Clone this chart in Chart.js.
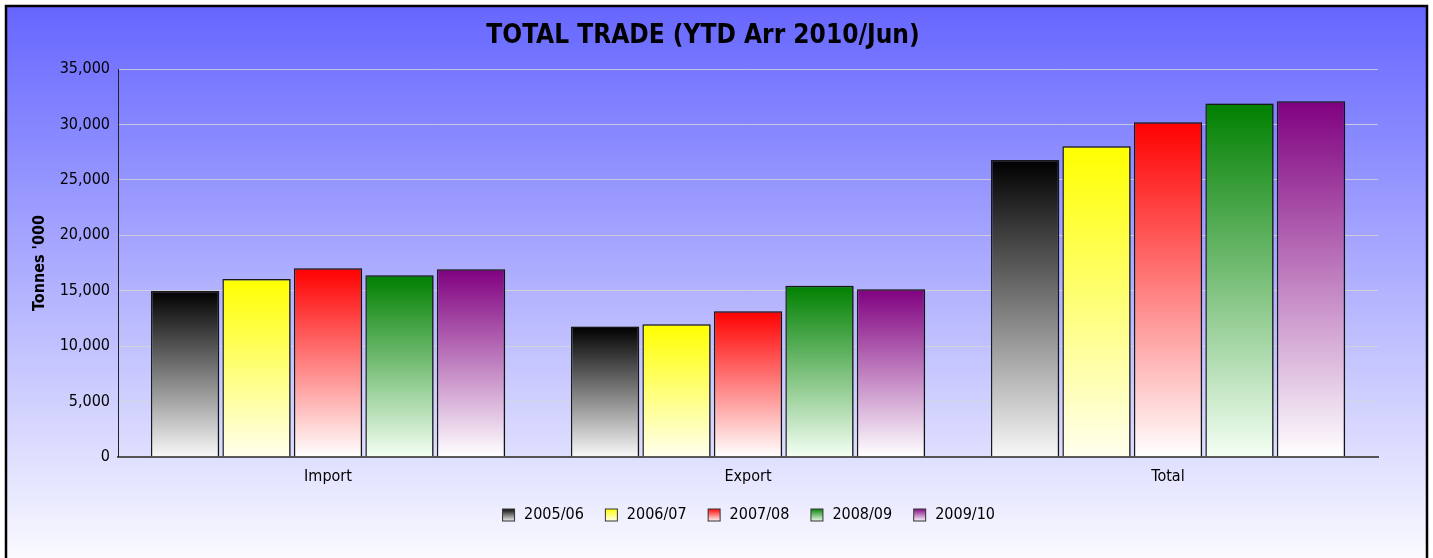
<!DOCTYPE html>
<html>
<head>
<meta charset="utf-8">
<script src="https://cdn.jsdelivr.net/npm/chart.js@4/dist/chart.umd.min.js"></script>
<style>
  html, body { margin: 0; padding: 0; background: #fff; }
  #wrap { width: 1433px; height: 558px; }
</style>
</head>
<body>
<div id="wrap"><canvas id="tradeChart"></canvas></div>
<script>
const categories = ['Import', 'Export', 'Total'];
const seasons = ['2005/06', '2006/07', '2007/08', '2008/09', '2009/10'];
const y2005 = [14980, 11760, 26790];
const y2006 = [16050, 11970, 28050];
const y2007 = [17020, 13140, 30220];
const y2008 = [16390, 15450, 31900];
const y2009 = [16930, 15120, 32110];
const yTicks = [0, 5000, 10000, 15000, 20000, 25000, 30000, 35000];

const topColors = ['#000000', '#ffff00', '#ff0000', '#008000', '#800080'];
const bottomColors = ['#f8f8f8', '#ffffee', '#ffffff', '#f4fff4', '#ffffff'];
const font = "'DejaVu Sans Condensed', 'DejaVu Sans', sans-serif";

// gradient per bar, from its own top down to the baseline
function barFill(i) {
  return (c) => {
    const chart = c.chart;
    const y = chart.scales.y;
    if (!chart.chartArea || !y || c.raw === undefined) return topColors[i];
    const top = y.getPixelForValue(c.raw);
    const bottom = y.getPixelForValue(0);
    const g = chart.ctx.createLinearGradient(0, top, 0, bottom);
    g.addColorStop(0, topColors[i]);
    g.addColorStop(1, bottomColors[i]);
    return g;
  };
}

// little gradient squares for the legend
function legendBox(i) {
  const cv = document.createElement('canvas');
  cv.width = 15; cv.height = 15;
  const x = cv.getContext('2d');
  const g = x.createLinearGradient(0, 1, 0, 14);
  g.addColorStop(0, topColors[i]);
  g.addColorStop(1, bottomColors[i]);
  x.fillStyle = g;
  x.fillRect(1, 1, 13, 13);
  x.strokeStyle = '#333';
  x.lineWidth = 1;
  x.strokeRect(1.5, 1.5, 12, 12);
  return cv;
}

const series = [y2005, y2006, y2007, y2008, y2009];

const bgPlugin = {
  id: 'bg',
  afterLayout(chart) {
    // pull the legend up a little, closer to the axis labels
    if (chart.legend) {
      chart.legend.top -= 9;
      chart.legend.bottom -= 9;
    }
  },
  beforeDraw(chart) {
    const ctx = chart.ctx;
    ctx.save();
    ctx.fillStyle = '#ffffff';
    ctx.fillRect(0, 0, chart.width, chart.height);
    const g = ctx.createLinearGradient(0, 6, 0, chart.height);
    g.addColorStop(0, '#6666ff');
    g.addColorStop(1, '#fafaff');
    ctx.fillStyle = g;
    ctx.fillRect(6, 6, chart.width - 12, chart.height);
    ctx.restore();
  },
  beforeDatasetsDraw(chart) {
    const ctx = chart.ctx;
    ctx.save();
    ctx.shadowColor = 'rgba(0,0,0,0.3)';
    ctx.shadowBlur = 2;
    ctx.shadowOffsetX = 2;
    ctx.shadowOffsetY = 0;
  },
  afterDatasetsDraw(chart) {
    chart.ctx.restore();
  },
  afterDraw(chart) {
    const ctx = chart.ctx;
    ctx.save();
    ctx.strokeStyle = '#000';
    ctx.lineWidth = 2.5;
    ctx.strokeRect(6, 6, chart.width - 12, chart.height + 20);
    ctx.restore();
  }
};

new Chart(document.getElementById('tradeChart'), {
  type: 'bar',
  data: {
    labels: categories,
    datasets: seasons.map((s, i) => ({
      label: s,
      data: series[i],
      backgroundColor: barFill(i),
      borderColor: '#1a1a1a',
      borderWidth: 1.5,
      pointStyle: legendBox(i),
      categoryPercentage: 0.851,
      barPercentage: 0.955
    }))
  },
  plugins: [bgPlugin],
  options: {
    responsive: true,
    maintainAspectRatio: false,
    animation: false,
    layout: { padding: { top: 0, left: 28, right: 55, bottom: 16 } },
    plugins: {
      title: {
        display: true,
        text: 'TOTAL TRADE (YTD Arr 2010/Jun)',
        color: '#000',
        font: { family: font, size: 26, weight: 'bold' },
        padding: { top: 21, bottom: 17 }
      },
      legend: {
        position: 'bottom',
        fullSize: false,
        labels: {
          usePointStyle: true,
          boxWidth: 15,
          boxHeight: 15,
          padding: 20,
          color: '#000',
          font: { family: font, size: 16 }
        }
      },
      tooltip: { enabled: false }
    },
    scales: {
      x: {
        grid: { display: false, drawTicks: false },
        border: { color: '#555', width: 2 },
        ticks: { color: '#000', padding: 10, font: { family: font, size: 16 } }
      },
      y: {
        min: 0,
        max: 35000,
        afterBuildTicks: (axis) => { axis.ticks = yTicks.map(v => ({ value: v })); },
        afterFit: (axis) => { axis.width = 90; },
        grid: { color: 'rgba(215,215,215,0.8)', lineWidth: 1, drawTicks: false },
        border: { color: '#222', width: 1 },
        title: {
          display: true,
          text: "Tonnes '000",
          color: '#000',
          font: { family: font, size: 16, weight: 'bold' },
          padding: { top: 2, bottom: 0 }
        },
        ticks: {
          color: '#000',
          padding: 8,
          font: { family: font, size: 16 },
          callback: (v) => v.toLocaleString('en-US')
        }
      }
    }
  }
});
</script>
</body>
</html>
